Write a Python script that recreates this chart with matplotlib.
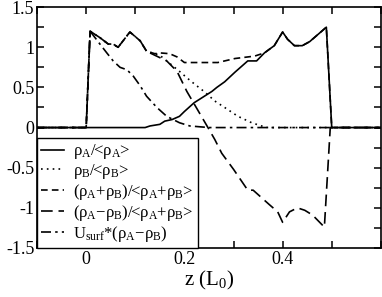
import matplotlib
matplotlib.use("Agg")
import matplotlib.pyplot as plt
from matplotlib.ticker import MultipleLocator

plt.rcParams['font.family'] = ['Liberation Serif', 'DejaVu Serif']
plt.rcParams['mathtext.default'] = 'regular'

# rho_A / <rho_A>
zA = [-0.1, 0.12, 0.13, 0.15, 0.16, 0.175, 0.19, 0.2, 0.22, 0.256, 0.266, 0.282,
      0.303, 0.329, 0.347, 0.363, 0.383, 0.4, 0.41, 0.424, 0.44, 0.455, 0.489, 0.5, 0.6]
rhoA = [0, 0, 0.02, 0.04, 0.08, 0.1, 0.14, 0.2, 0.31, 0.45, 0.5, 0.57,
        0.69, 0.83, 0.83, 0.93, 1.02, 1.19, 1.1, 1.02, 1.02, 1.07, 1.25, 0, 0]

# rho_B / <rho_B>
zB = [-0.1, 0.0, 0.008, 0.028, 0.045, 0.055, 0.065, 0.089, 0.11, 0.123, 0.14, 0.15,
      0.17, 0.19, 0.205, 0.221, 0.242, 0.262, 0.282, 0.309, 0.337, 0.357, 0.37, 0.6]
rhoB = [0, 0, 1.2, 1.12, 1.04, 1.04, 1.0, 1.19, 1.08, 0.95, 0.92, 0.9,
        0.8, 0.7, 0.62, 0.54, 0.44, 0.33, 0.25, 0.14, 0.06, 0.02, 0, 0]

# (rho_A + rho_B) / <rho_A + rho_B>
zT = [-0.1, 0.0, 0.008, 0.028, 0.045, 0.055, 0.065, 0.089, 0.11, 0.123, 0.14, 0.15,
      0.17, 0.185, 0.2, 0.268, 0.303, 0.343, 0.363, 0.383, 0.4, 0.41, 0.424, 0.44,
      0.455, 0.489, 0.5, 0.6]
total = [0, 0, 1.2, 1.12, 1.04, 1.04, 1.0, 1.19, 1.08, 0.95, 0.92, 0.93,
         0.92, 0.88, 0.81, 0.81, 0.86, 0.89, 0.93, 1.02, 1.19, 1.1, 1.02, 1.02,
         1.07, 1.25, 0, 0]

# (rho_A - rho_B) / <rho_A + rho_B>
zD = [-0.1, 0.0, 0.008, 0.028, 0.045, 0.055, 0.065, 0.089, 0.11, 0.123, 0.14, 0.164,
      0.185, 0.205, 0.227, 0.247, 0.262, 0.276, 0.3, 0.329, 0.34, 0.373, 0.39, 0.4,
      0.414, 0.43, 0.445, 0.461, 0.485, 0.497, 0.6]
diff = [0, 0, 1.2, 1.12, 1.04, 1.04, 1.0, 1.19, 1.08, 0.95, 0.9, 0.83,
        0.7, 0.45, 0.22, 0.01, -0.15, -0.32, -0.52, -0.78, -0.78, -0.96, -1.05, -1.18,
        -1.05, -1.0, -1.03, -1.09, -1.24, 0, 0]

# U_surf * (rho_A - rho_B)
zU = [-0.1, 0.0, 0.008, 0.028, 0.042, 0.055, 0.069, 0.083, 0.096, 0.11, 0.123, 0.144,
      0.164, 0.19, 0.211, 0.25, 0.6]
usurf = [0, 0, 1.2, 1.04, 0.93, 0.83, 0.75, 0.72, 0.64, 0.52, 0.39, 0.25,
         0.14, 0.06, 0.02, 0, 0]

labels = ['ρ$_A$/<ρ$_A$>',
          'ρ$_B$/<ρ$_B$>',
          '(ρ$_A$+ρ$_B$)/<ρ$_A$+ρ$_B$>',
          '(ρ$_A$\u2212ρ$_B$)/<ρ$_A$+ρ$_B$>',
          'U$_{surf}$*(ρ$_A$\u2212ρ$_B$)']

fig = plt.figure(figsize=(3.82, 2.97), dpi=100)
ax = fig.add_axes([0.097, 0.165, 0.9, 0.811])

lw = 1.2
ax.plot(zA, rhoA, color='black', lw=lw, ls='-', label=labels[0])
ax.plot(zB, rhoB, color='black', lw=lw, ls=(0, (1, 2.5)), label=labels[1])
ax.plot(zT, total, color='black', lw=lw, ls=(0, (4, 2.5)), label=labels[2])
ax.plot(zD, diff, color='black', lw=lw, ls=(0, (7, 3.5)), label=labels[3])
ax.plot(zU, usurf, color='black', lw=lw, ls=(0, (6, 2.5, 1.5, 2.5)), label=labels[4])

ax.set_xlim(-0.1, 0.6)
ax.set_ylim(-1.5, 1.5)
ax.xaxis.set_major_locator(MultipleLocator(0.2))
ax.xaxis.set_minor_locator(MultipleLocator(0.1))
ax.yaxis.set_major_locator(MultipleLocator(0.5))
ax.yaxis.set_minor_locator(MultipleLocator(0.25))
ax.set_xticks([0, 0.2, 0.4])
ax.set_xticklabels(['0', '0.2', '0.4'])
ax.set_yticks([-1.5, -1, -0.5, 0, 0.5, 1, 1.5])
ax.set_yticklabels(['-1.5', '-1', '-0.5', '0', '0.5', '1', '1.5'])
ax.tick_params(which='both', direction='in', top=True, right=True, length=5, width=1.1,
               labelsize=13, pad=2)
for s in ax.spines.values():
    s.set_linewidth(1.2)

ax.set_xlabel(r'z (L$_0$)', fontsize=15, labelpad=1)

leg = ax.legend(loc='lower left', borderaxespad=0, fontsize=12, handlelength=1.35,
                handletextpad=0.55, labelspacing=0.05, fancybox=False,
                edgecolor='black', framealpha=1, borderpad=0.25)
leg.get_frame().set_linewidth(1.0)

fig.savefig('out.png', dpi=100)
